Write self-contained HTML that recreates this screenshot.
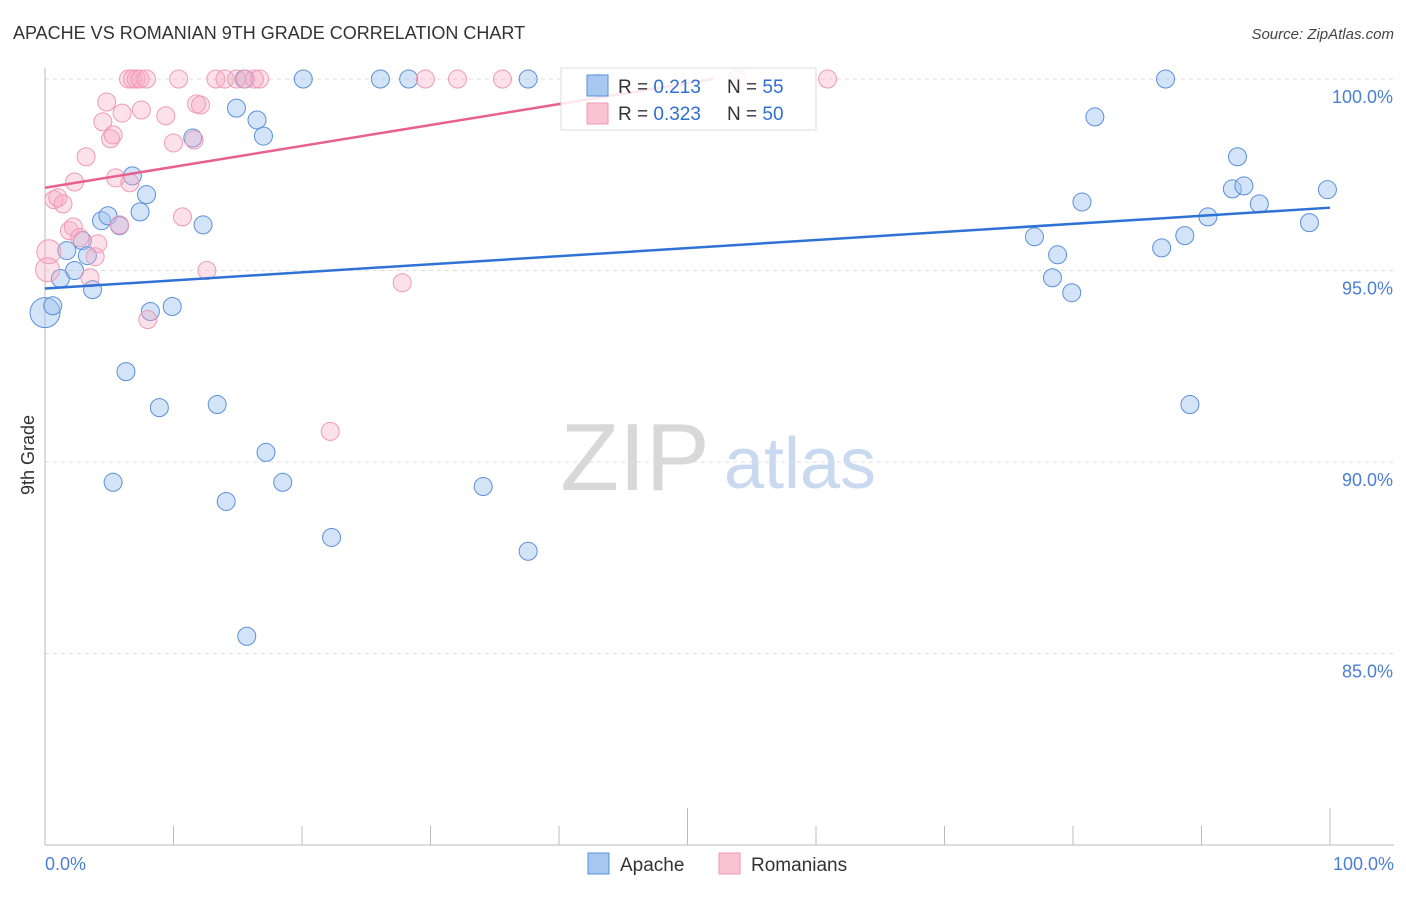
<!DOCTYPE html>
<html><head><meta charset="utf-8"><style>
body{margin:0;background:#fff;font-family:"Liberation Sans",sans-serif;}
svg text{font-family:"Liberation Sans",sans-serif;}
</style></head><body>
<svg id="chart" width="1406" height="892" viewBox="0 0 1406 892" xmlns="http://www.w3.org/2000/svg">
<text x="13" y="39" font-size="18" fill="#333">APACHE VS ROMANIAN 9TH GRADE CORRELATION CHART</text>
<text x="1394" y="39" font-size="15" font-style="italic" fill="#444" text-anchor="end">Source: ZipAtlas.com</text>
<g>
<text x="635" y="490" font-size="96" fill="#d8d8d8" font-family="Liberation Serif,serif" text-anchor="middle">ZIP</text>
<text x="800" y="488" font-size="72" fill="#c8d9f0" text-anchor="middle">atlas</text>
</g>
<g id="grid"></g>
<g id="axes"></g>
<g id="pts"></g>
<g id="lines"></g>
<text transform="translate(34,455) rotate(-90)" font-size="18" fill="#333" text-anchor="middle">9th Grade</text>
<text x="45" y="870" font-size="18" fill="#4a7fd4">0.0%</text>
<text x="1394" y="870" font-size="18" fill="#4a7fd4" text-anchor="end">100.0%</text>
<g>
<rect x="561" y="68" width="255" height="62" fill="#fff" fill-opacity="0.85" stroke="#ddd"/>
<rect x="587" y="75" width="21" height="21" fill="#a8c8f2" stroke="#5b8fd9"/>
<rect x="587" y="103" width="21" height="21" fill="#f9c3d4" stroke="#f09ab5"/>
<text x="618" y="93" font-size="19" fill="#333">R = <tspan fill="#2f6fd0">0.213</tspan></text>
<text x="727" y="93" font-size="19" fill="#333">N = <tspan fill="#2f6fd0">55</tspan></text>
<text x="618" y="120" font-size="19" fill="#333">R = <tspan fill="#2f6fd0">0.323</tspan></text>
<text x="727" y="120" font-size="19" fill="#333">N = <tspan fill="#2f6fd0">50</tspan></text>
</g>
<g>
<rect x="588" y="853" width="21" height="21" fill="#a8c8f2" stroke="#5b8fd9"/>
<text x="620" y="871" font-size="19" fill="#333">Apache</text>
<rect x="719" y="853" width="21" height="21" fill="#f9c3d4" stroke="#f09ab5"/>
<text x="751" y="871" font-size="19" fill="#333">Romanians</text>
</g>
</svg>
<script>
const apacheX=[0,0.6,1.2,1.7,2.3,2.9,3.3,3.7,4.4,4.9,5.3,5.8,6.3,6.8,7.4,7.9,8.2,8.9,9.9,11.5,12.3,13.4,14.1,14.9,15.5,15.7,16.5,17.0,17.2,18.5,20.1,22.3,26.1,28.3,34.1,37.6,37.6,43.0,77.0,78.4,78.8,79.9,80.7,81.7,86.9,87.2,88.7,89.1,90.5,92.4,92.8,93.3,94.5,98.4,99.8];
const apacheY=[93.9,94.08,94.79,95.52,95.0,95.78,95.39,94.5,96.3,96.43,89.47,96.17,92.36,97.47,96.53,96.98,93.93,91.42,94.06,98.46,96.19,91.5,88.97,99.24,100,85.45,98.93,98.51,90.25,89.47,100,88.03,100,100,89.36,100,87.67,99.9,95.88,94.81,95.41,94.42,96.79,99.01,95.59,100,95.91,91.5,96.4,97.13,97.97,97.21,96.74,96.25,97.11];
const romX=[6.5,6.8,7.1,7.4,7.9,10.4,13.3,14.0,14.9,15.6,16.3,16.7,29.6,32.1,35.6,53.9,60.9,0.3,0.2,0.7,1.0,1.4,1.9,2.2,2.3,2.7,3.2,3.5,3.9,4.1,4.5,4.8,5.1,5.3,5.5,5.8,6.0,6.6,7.5,8.0,9.4,10.0,10.7,11.6,11.8,12.1,12.6,22.2,27.8];
const romY=[100,100,100,100,100,100,100,100,100,100,100,100,100,100,100,100,100,95.49,95.02,96.85,96.9,96.74,96.04,96.14,97.31,95.86,97.97,94.81,95.36,95.7,98.88,99.4,98.44,98.54,97.42,96.19,99.11,97.29,99.19,93.72,99.04,98.33,96.4,98.41,99.35,99.32,95.0,90.8,94.68];
const yTicks=[100,95,90,85];
const yTickLabels=["100.0%","95.0%","90.0%","85.0%"];
const xTicks=[0,10,20,30,40,50,60,70,80,90,100];
const apacheTrend=[[0,94.53],[100,96.64]];
const romTrend=[[0,97.16],[52,100]];
const NS="http://www.w3.org/2000/svg";
const X0=45,X1=1330,Y0=79,Y1=845,YMIN=80,YMAX=100;
const sx=v=>X0+(v/100)*(X1-X0);
const sy=v=>Y0+(YMAX-v)/(YMAX-YMIN)*(Y1-Y0);
function mk(tag,attrs,parent){const e=document.createElementNS(NS,tag);for(const k in attrs)e.setAttribute(k,attrs[k]);document.getElementById(parent).appendChild(e);return e;}
yTicks.forEach((t,i)=>{
 const g=mk('line',{x1:X0,x2:1394,y1:sy(t),y2:sy(t),stroke:'#ddd','stroke-dasharray':'4,4'},'grid');
 
 
 const l=mk('text',{x:1393,y:sy(t)+24,'font-size':18,fill:'#4a7fd4','text-anchor':'end'},'grid');
 l.textContent=yTickLabels[i];
 
 
});
const ax=mk('line',{x1:X0,x2:X0,y1:68,y2:Y1,stroke:'#bbb'},'axes');


const bx=mk('line',{x1:X0,x2:1394,y1:Y1,y2:Y1,stroke:'#bbb'},'axes');


xTicks.forEach(t=>{
 const major=(t===0||t===50||t===100);
 const tk=mk('line',{x1:sx(t),x2:sx(t),y1:major?808:826,y2:Y1,stroke:'#bbb'},'axes');
 
 
});
apacheX.forEach((x,i)=>{
 const c=mk('circle',{cx:sx(x),cy:sy(apacheY[i]),r:(i===0?15:9),fill:'rgba(160,196,240,0.45)',stroke:'#5b8fd9','stroke-width':1},'pts');
 
 
});
romX.forEach((x,i)=>{
 const c=mk('circle',{cx:sx(x),cy:sy(romY[i]),r:(i===17||i===18?12:9),fill:'rgba(245,170,195,0.35)',stroke:'#f09ab5','stroke-width':1},'pts');
 
 
});
const l1=mk('line',{x1:sx(apacheTrend[0][0]),y1:sy(apacheTrend[0][1]),x2:sx(apacheTrend[1][0]),y2:sy(apacheTrend[1][1]),stroke:'#2f72d6','stroke-width':2.5},'lines');


const l2=mk('line',{x1:sx(romTrend[0][0]),y1:sy(romTrend[0][1]),x2:sx(romTrend[1][0]),y2:sy(romTrend[1][1]),stroke:'#e8608f','stroke-width':2.5},'lines');


</script>
</body></html>
